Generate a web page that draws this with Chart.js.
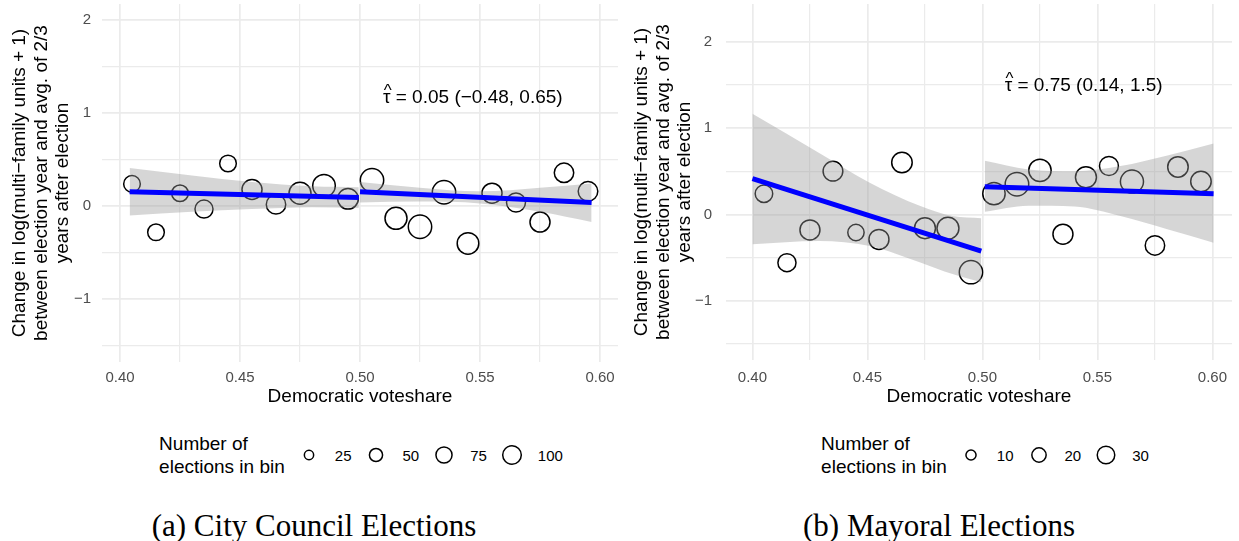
<!DOCTYPE html>
<html>
<head>
<meta charset="utf-8">
<script src="https://cdn.jsdelivr.net/npm/chart.js@4.4.1/dist/chart.umd.min.js"></script>
<style>
  body { margin: 0; background: #fff; font-family: 'Liberation Sans', Arial, sans-serif; }
  #page { position: relative; width: 1239px; height: 541px; overflow: hidden; background: #fff; }
  canvas { position: absolute; top: 0; }
  .legend { position: absolute; top: 432px; height: 46px; display: flex; align-items: center; justify-content: center; }
  .legend-title { font-size: 19px; line-height: 23px; color: #000; margin-right: 13px; }
  .legend svg { display: block; }
  .legend-label { font-size: 15px; color: #000; margin: 0 14px 0 15px; }
  .caption { position: absolute; top: 509px; text-align: center; font-family: 'Liberation Serif', 'DejaVu Serif', serif; font-size: 31px; line-height: 34px; color: #000; }
</style>
</head>
<body>
<div id="page">
  <canvas id="councilChart" width="620" height="410" style="left:0"></canvas>
  <canvas id="mayorChart" width="619" height="410" style="left:620px"></canvas>
  <div class="legend" id="councilLegend" style="left:110px; width:516px"></div>
  <div class="legend" id="mayorLegend" style="left:739px; width:506px"></div>
  <div class="caption" style="left:0; width:628px">(a) City Council Elections</div>
  <div class="caption" style="left:629px; width:620px">(b) Mayoral Elections</div>
</div>
<script>
// bin midpoints of Democratic voteshare
const binCenters = [0.405, 0.415, 0.425, 0.435, 0.445, 0.455, 0.465, 0.475, 0.485, 0.495,
                    0.505, 0.515, 0.525, 0.535, 0.545, 0.555, 0.565, 0.575, 0.585, 0.595];

// city council: mean change per bin and number of elections per bin
const councilChange = [0.24, -0.28, 0.14, -0.03, 0.46, 0.18, 0.02, 0.14, 0.22, 0.08,
                       0.28, -0.13, -0.22, 0.15, -0.40, 0.14, 0.04, -0.17, 0.36, 0.16];
const councilCount = [80, 80, 80, 94, 80, 116, 109, 140, 148, 123,
                      158, 140, 158, 158, 135, 116, 104, 116, 109, 111];

// mayoral: mean change per bin and number of elections per bin
const mayorChange = [0.24, -0.56, -0.18, 0.50, -0.21, -0.29, 0.60, -0.16, -0.16, -0.67,
                     0.24, 0.35, 0.51, -0.23, 0.43, 0.56, 0.38, -0.36, 0.55, 0.38];
const mayorCount = [30, 32, 39, 38, 26, 39, 41, 43, 47, 53,
                    49, 54, 49, 39, 43, 35, 52, 37, 41, 41];

// local linear fits on each side of the cutoff
const councilFitLeftX = [0.404, 0.4995];
const councilFitLeftY = [0.155, 0.093];
const councilFitRightX = [0.500, 0.5965];
const councilFitRightY = [0.155, 0.040];
const mayorFitLeftX = [0.400, 0.4995];
const mayorFitLeftY = [0.415, -0.425];
const mayorFitRightX = [0.501, 0.6005];
const mayorFitRightY = [0.320, 0.240];

// 95% confidence bands around the fits
const councilBandLeftX = [0.404, 0.430, 0.455, 0.480, 0.4995];
const councilBandLeftUpper = [0.41, 0.33, 0.26, 0.215, 0.205];
const councilBandLeftLower = [-0.10, -0.06, -0.03, -0.01, -0.02];
const councilBandRightX = [0.500, 0.525, 0.550, 0.575, 0.5965];
const councilBandRightUpper = [0.26, 0.20, 0.16, 0.20, 0.245];
const councilBandRightLower = [0.04, 0.05, 0.03, -0.06, -0.17];
const mayorBandLeftX = [0.400, 0.429, 0.451, 0.473, 0.487, 0.4995];
const mayorBandLeftUpper = [1.165, 0.712, 0.366, 0.096, -0.02, -0.046];
const mayorBandLeftLower = [-0.346, -0.308, -0.366, -0.557, -0.692, -0.788];
const mayorBandRightX = [0.501, 0.520, 0.540, 0.560, 0.580, 0.6005];
const mayorBandRightUpper = [0.62, 0.52, 0.50, 0.56, 0.68, 0.82];
const mayorBandRightLower = [0.03, 0.10, 0.09, -0.02, -0.17, -0.33];

// estimated discontinuity: estimate, lower, upper
const councilEffect = [0.05, -0.48, 0.65];
const mayorEffect = [0.75, 0.14, 1.5];

const councilLegendBreaks = [25, 50, 75, 100];
const mayorLegendBreaks = [10, 20, 30];

const FONT = '"Liberation Sans", Arial, sans-serif';
const GRID = '#ebebeb';
const BAND_FILL = 'rgba(153, 153, 153, 0.4)';
const FIT_COLOR = '#0000ff';

Chart.defaults.font.family = FONT;

const councilRadius = (n) => 0.93 * Math.sqrt(n);
const mayorRadius = (n) => 1.6 * Math.sqrt(n);

const fmt = (v) => (v < 0 ? '\u2212' + Math.abs(v) : String(v));
const pairs = (xs, ys) => xs.map((x, i) => ({ x, y: ys[i] }));

// draws the tau-hat label at a data position
const tauLabel = {
  id: 'tauLabel',
  afterDatasetsDraw(chart, args, opts) {
    const { ctx, scales } = chart;
    const [est, lo, hi] = opts.effect;
    const rest = ' = ' + fmt(est) + ' (' + fmt(lo) + ', ' + fmt(hi) + ')';
    const cx = scales.x.getPixelForValue(opts.x);
    const cy = scales.y.getPixelForValue(opts.y);
    ctx.save();
    ctx.font = '19px ' + FONT;
    ctx.fillStyle = '#000';
    ctx.textBaseline = 'middle';
    ctx.textAlign = 'left';
    const tauW = ctx.measureText('\u03c4').width;
    const total = tauW + ctx.measureText(rest).width;
    const x0 = cx - total / 2;
    ctx.fillText('\u03c4', x0, cy);
    ctx.fillText(rest, x0 + tauW, cy);
    ctx.font = '17px ' + FONT;
    ctx.textAlign = 'center';
    ctx.fillText('^', x0 + tauW / 2 + 1, cy - 6);
    ctx.restore();
  }
};

// pins the plot area to fixed pixel bounds, whatever room the tick labels asked for
const pinArea = {
  id: 'pinArea',
  afterLayout(chart, args, opts) {
    const area = chart.chartArea;
    const { x, y } = chart.scales;
    area.left = opts.left;
    area.right = opts.right;
    area.top = opts.top;
    area.bottom = opts.bottom;
    area.width = area.right - area.left;
    area.height = area.bottom - area.top;

    x.left = area.left;
    x.right = area.right;
    x.width = area.width;
    x.top = area.bottom;
    x.height = x.bottom - x.top;

    y.top = area.top;
    y.bottom = area.bottom;
    y.height = area.height;
    y.left = 0;
    y.right = area.left;
    y.width = area.left;

    x.configure();
    y.configure();
  }
};

const makePanel = (canvasId, p) => {
  const bandSet = (xs, upper, lower) => [
    { type: 'line', data: pairs(xs, upper), borderWidth: 0, pointRadius: 0, fill: false,
      cubicInterpolationMode: 'monotone', order: 2 },
    { type: 'line', data: pairs(xs, lower), borderWidth: 0, pointRadius: 0, fill: '-1',
      backgroundColor: BAND_FILL, cubicInterpolationMode: 'monotone', order: 2 }
  ];
  const fitLine = (xs, ys) => ({
    type: 'line', data: pairs(xs, ys), borderColor: FIT_COLOR, borderWidth: 5,
    borderCapStyle: 'butt', pointRadius: 0, fill: false, order: 1
  });

  return new Chart(document.getElementById(canvasId), {
    type: 'scatter',
    data: {
      datasets: [
        {
          data: pairs(binCenters, p.change),
          pointRadius: p.count.map(p.radius),
          pointBorderColor: '#000',
          pointBackgroundColor: 'rgba(0,0,0,0)',
          pointBorderWidth: 1.5,
          order: 3
        },
        ...bandSet(p.bandLeft[0], p.bandLeft[1], p.bandLeft[2]),
        ...bandSet(p.bandRight[0], p.bandRight[1], p.bandRight[2]),
        fitLine(p.fitLeft[0], p.fitLeft[1]),
        fitLine(p.fitRight[0], p.fitRight[1])
      ]
    },
    options: {
      responsive: false,
      animation: false,
      devicePixelRatio: 1,
      plugins: {
        legend: { display: false },
        tooltip: { enabled: false },
        tauLabel: { x: p.labelAt[0], y: p.labelAt[1], effect: p.effect },
        pinArea: p.area
      },
      scales: {
        x: {
          type: 'linear',
          min: p.xMin,
          max: p.xMax,
          border: { display: false },
          grid: {
            color: GRID,
            drawTicks: false,
            lineWidth: (c) => (Math.abs(c.tick.value * 20 - Math.round(c.tick.value * 20)) < 1e-6 ? 1.7 : 1.2)
          },
          ticks: {
            stepSize: 0.025,
            includeBounds: false,
            autoSkip: false,
            maxRotation: 0,
            padding: p.tickPadX,
            color: '#4d4d4d',
            font: { size: 15 },
            callback: (v) => (Math.abs(v * 20 - Math.round(v * 20)) < 1e-6 ? v.toFixed(2) : '')
          },
          title: {
            display: true,
            text: 'Democratic voteshare',
            color: '#000',
            font: { size: 19 },
            padding: { top: 0, bottom: 1.5 }
          }
        },
        y: {
          min: p.yMin,
          max: p.yMax,
          border: { display: false },
          grid: {
            color: GRID,
            drawTicks: false,
            lineWidth: (c) => (Number.isInteger(c.tick.value) ? 1.7 : 1.2)
          },
          ticks: {
            stepSize: 0.5,
            includeBounds: false,
            padding: p.tickPadY,
            color: '#4d4d4d',
            font: { size: 15 },
            callback: (v) => (Number.isInteger(v) ? fmt(v) : '')
          },
          title: {
            display: true,
            text: ['Change in log(multi\u2212family units + 1)',
                   'between election year and avg. of 2/3',
                   'years after election'],
            color: '#000',
            font: { size: 19, lineHeight: 1.12 },
            padding: { top: p.yTitleTop, bottom: 0 }
          }
        }
      }
    },
    plugins: [pinArea, tauLabel]
  });
};

const buildLegend = (el, breaks, radiusOf) => {
  const svgNS = 'http://www.w3.org/2000/svg';
  const title = document.createElement('div');
  title.className = 'legend-title';
  title.innerHTML = 'Number of<br>elections in bin';
  el.appendChild(title);
  breaks.forEach((n) => {
    const key = document.createElementNS(svgNS, 'svg');
    key.setAttribute('width', '22');
    key.setAttribute('height', '24');
    const circle = document.createElementNS(svgNS, 'circle');
    circle.setAttribute('cx', '11');
    circle.setAttribute('cy', '12');
    circle.setAttribute('r', radiusOf(n).toFixed(2));
    circle.setAttribute('fill', 'none');
    circle.setAttribute('stroke', '#000');
    circle.setAttribute('stroke-width', '1.5');
    key.appendChild(circle);
    const label = document.createElement('span');
    label.className = 'legend-label';
    label.textContent = n;
    el.appendChild(key);
    el.appendChild(label);
  });
};

makePanel('councilChart', {
  change: councilChange, count: councilCount, radius: councilRadius,
  fitLeft: [councilFitLeftX, councilFitLeftY], fitRight: [councilFitRightX, councilFitRightY],
  bandLeft: [councilBandLeftX, councilBandLeftUpper, councilBandLeftLower],
  bandRight: [councilBandRightX, councilBandRightUpper, councilBandRightLower],
  effect: councilEffect, labelAt: [0.547, 1.17],
  xMin: 0.3925, xMax: 0.6075, yMin: -1.675, yMax: 2.175,
  area: { left: 102, right: 618, top: 4, bottom: 362 },
  tickPadY: 11, tickPadX: 7, yTitleTop: 9.5
});

makePanel('mayorChart', {
  change: mayorChange, count: mayorCount, radius: mayorRadius,
  fitLeft: [mayorFitLeftX, mayorFitLeftY], fitRight: [mayorFitRightX, mayorFitRightY],
  bandLeft: [mayorBandLeftX, mayorBandLeftUpper, mayorBandLeftLower],
  bandRight: [mayorBandRightX, mayorBandRightUpper, mayorBandRightLower],
  effect: mayorEffect, labelAt: [0.544, 1.49],
  xMin: 0.3885, xMax: 0.6085, yMin: -1.6875, yMax: 2.4375,
  area: { left: 106, right: 612, top: 4, bottom: 360 },
  tickPadY: 14, tickPadX: 9, yTitleTop: 11.5
});

buildLegend(document.getElementById('councilLegend'), councilLegendBreaks, councilRadius);
buildLegend(document.getElementById('mayorLegend'), mayorLegendBreaks, mayorRadius);
</script>
</body>
</html>
